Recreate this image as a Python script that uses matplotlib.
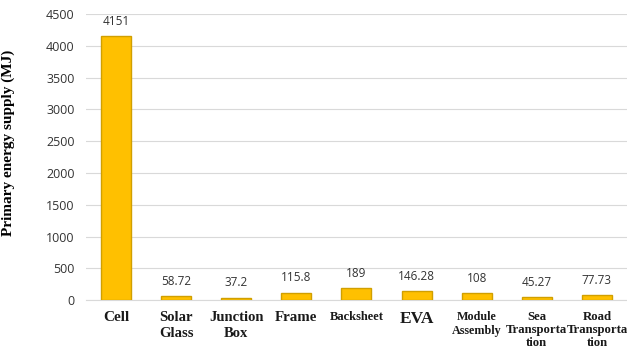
import matplotlib
matplotlib.use("Agg")
import matplotlib.pyplot as plt
import numpy as np

# dữ liệu
categories = ["Cell", "Solar\nGlass", "Junction\nBox", "Frame", "Backsheet", "EVA",
              "Module\nAssembly", "Sea\nTransporta\ntion", "Road\nTransporta\ntion"]
values = [4151, 58.72, 37.2, 115.8, 189, 146.28, 108, 45.27, 77.73]
value_labels = ["4151", "58.72", "37.2", "115.8", "189", "146.28", "108", "45.27", "77.73"]
yticks = [0, 500, 1000, 1500, 2000, 2500, 3000, 3500, 4000, 4500]

fig = plt.figure(figsize=(6.27, 3.49), dpi=100)
ax = fig.add_axes([0.137, 0.14, 0.863, 0.82])

x = np.arange(len(categories))
bars = ax.bar(x, values, width=0.5, color="#FFC000", edgecolor="#D19F00", linewidth=1.0, zorder=3)

# nhãn giá trị trên cột
for xi, v, s in zip(x, values, value_labels):
    ax.annotate(s, (xi, v), xytext=(0, 6), textcoords="offset points",
                ha="center", va="bottom", fontsize=8.5, color="#333333",
                family="Open Sans")

ax.set_xlim(-0.5, len(categories) - 0.5)
ax.set_ylim(0, 4500)
ax.set_yticks(yticks)
ax.tick_params(axis="y", length=0, labelsize=9, labelcolor="#333333", pad=8)
for lab in ax.get_yticklabels():
    lab.set_family("Open Sans")
ax.grid(axis="y", color="#D9D9D9", linewidth=0.8, zorder=0)
for sp in ["top", "right", "left"]:
    ax.spines[sp].set_visible(False)
ax.spines["bottom"].set_color("#D9D9D9")

# nhãn trục x: cỡ chữ và giãn dòng khác nhau như bản gốc
sizes = [11, 10.5, 10.5, 10.8, 9, 12.5, 8.7, 9.2, 9.2]
spacing = [1.1, 1.3, 1.3, 1.1, 1.1, 1.1, 1.15, 1.1, 1.1]
ax.set_xticks(x)
ax.set_xticklabels(categories)
ax.tick_params(axis="x", length=0, pad=8)
for lab, s, ls in zip(ax.get_xticklabels(), sizes, spacing):
    lab.set_family("Liberation Serif")
    lab.set_fontweight("bold")
    lab.set_fontsize(s)
    lab.set_linespacing(ls)
    lab.set_color("#1a1a1a")

ax.set_ylabel("Primary energy supply (MJ)", family="Liberation Serif", fontweight="bold",
              fontsize=11)
ax.yaxis.set_label_coords(-0.131, 0.55)

fig.savefig("out.png", dpi=100)
